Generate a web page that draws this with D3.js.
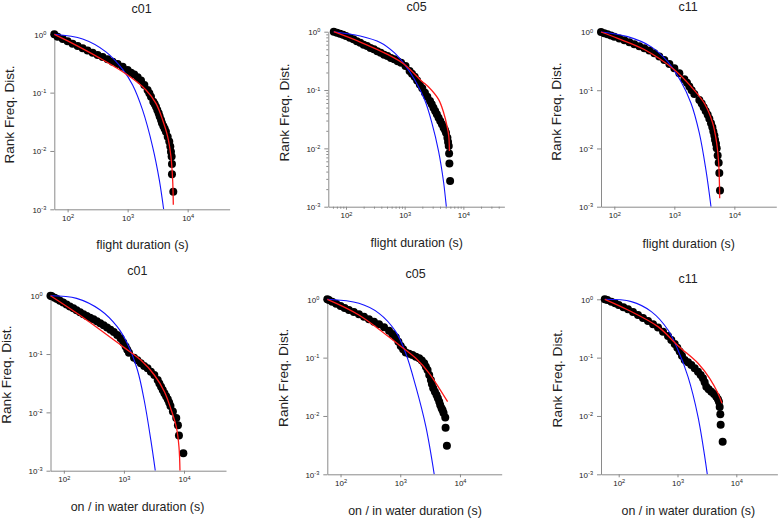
<!DOCTYPE html>
<html><head><meta charset="utf-8">
<script src="https://cdn.jsdelivr.net/npm/d3@7"></script>
<style>
body{margin:0;background:#fff;}
svg text{font-family:"Liberation Sans",Arial,sans-serif;}
</style></head><body>
<svg id="chart" width="778" height="519"></svg>
<script>
// ---------- data (duration in s, rank frequency) ----------
const titles = ["c01", "c05", "c11"];
const xLabels = ["flight duration (s)", "on / in water duration (s)"];
const yLabel = "Rank Freq. Dist.";
const xTickValues = [100, 1000, 10000];
const yTickValues = [0.001, 0.01, 0.1, 1];

const c01FlightDots = [[60,1.0],[68,0.912],[83,0.832],[100,0.759],[121,0.692],[147,0.631],[178,0.575],[215,0.525],[261,0.485],[316,0.442],[383,0.409],[464,0.373],[562,0.34],[681,0.31],[826,0.279],[1000,0.245],[1140,0.22],[1290,0.204],[1470,0.183],[1670,0.161],[1900,0.135],[2150,0.111],[2300,0.0974],[2450,0.0854],[2680,0.0701],[2820,0.064],[2970,0.0575],[3120,0.0504],[3290,0.0442],[3420,0.0388],[3600,0.034],[3730,0.0302],[3930,0.0268],[4140,0.0241],[4350,0.0214],[4650,0.0176],[4940,0.0145],[5140,0.0119],[5270,0.0097],[5410,0.008],[5480,0.006],[5480,0.004],[5770,0.002]];
const c01FlightRed = [[60,1.0],[100,0.77],[337,0.395],[1000,0.2],[2020,0.111],[2965,0.0656],[3830,0.034],[4645,0.0176],[5270,0.008],[5623,0.0032],[5770,0.0012]];
const c01FlightBlue = [[60,1.0],[178,0.83],[435,0.5],[826,0.25],[1211,0.135],[1778,0.05],[2610,0.0118],[3370,0.0032],[3981,0.001]];

const c05FlightDots = [[62,1.0],[70,0.961],[79,0.924],[89,0.883],[100,0.843],[116,0.784],[134,0.739],[153,0.683],[175,0.648],[200,0.598],[229,0.568],[261,0.525],[299,0.498],[341,0.46],[390,0.437],[446,0.403],[509,0.383],[582,0.354],[665,0.336],[760,0.31],[869,0.294],[1033,0.258],[1213,0.212],[1334,0.19],[1483,0.169],[1629,0.146],[1811,0.125],[1995,0.107],[2213,0.09],[2432,0.077],[2704,0.0648],[2891,0.0568],[3090,0.0498],[3304,0.0437],[3532,0.0383],[3777,0.0336],[4036,0.0294],[4318,0.0258],[4613,0.0226],[4864,0.0206],[5058,0.0186],[5343,0.0152],[5483,0.0128],[5636,0.011],[5715,0.0082],[5781,0.0055],[5943,0.00275]];
const c05FlightRed = [[62,1.0],[175,0.665],[509,0.409],[993,0.275],[1936,0.143],[2529,0.114],[3777,0.0692],[4613,0.0409],[5272,0.0241],[5636,0.0163],[5781,0.009]];
const c05FlightBlue = [[62,1.0],[175,0.843],[390,0.648],[665,0.437],[993,0.275],[1483,0.15],[2213,0.066],[2891,0.028],[3777,0.009],[4613,0.0026],[5128,0.001]];

const c11FlightDots = [[60,1.0],[68,0.948],[77,0.912],[88,0.87],[100,0.832],[121,0.774],[147,0.72],[178,0.665],[215,0.615],[261,0.568],[316,0.525],[383,0.479],[464,0.431],[562,0.378],[681,0.331],[826,0.283],[1000,0.238],[1211,0.196],[1469,0.154],[1625,0.134],[1778,0.116],[1945,0.1],[2154,0.0865],[2610,0.0683],[2855,0.059],[3083,0.0511],[3327,0.0442],[3597,0.0378],[3830,0.0323],[4083,0.0272],[4299,0.0232],[4467,0.0196],[4645,0.0167],[4764,0.0141],[4943,0.012],[5080,0.0101],[5272,0.0076],[5483,0.0057],[5623,0.0038],[5768,0.0019]];
const c11FlightRed = [[60,1.0],[114,0.778],[316,0.5],[1000,0.225],[1897,0.116],[3162,0.0598],[4355,0.0272],[5080,0.0123],[5483,0.0056],[5700,0.0014]];
const c11FlightBlue = [[60,1.0],[167,0.832],[408,0.561],[774,0.31],[1291,0.141],[1897,0.0598],[2610,0.0183],[3370,0.0042],[4083,0.001]];

const c01WaterDots = [[60,1.0],[63,0.975],[70.5,0.924],[77,0.877],[86,0.821],[97.5,0.764],[111,0.71],[126,0.656],[144,0.607],[163,0.561],[186,0.518],[212,0.482],[241,0.448],[274,0.42],[312,0.393],[355,0.363],[404,0.336],[460,0.31],[524,0.286],[596,0.261],[678,0.238],[773,0.212],[879,0.186],[975,0.158],[1067,0.134],[1138,0.119],[1213,0.105],[1474,0.0865],[1679,0.0779],[1910,0.0692],[2173,0.0623],[2472,0.0568],[2812,0.0498],[3206,0.0437],[3648,0.0358],[3890,0.0314],[4150,0.0275],[4426,0.0241],[4721,0.0212],[5036,0.0188],[5370,0.0167],[5662,0.0147],[5955,0.0128],[6531,0.0103],[7430,0.008],[7925,0.006],[8242,0.004],[9750,0.002]];
const c01WaterRed = [[60,1.0],[212,0.42],[1000,0.13],[1910,0.0789],[3206,0.0437],[4721,0.0226],[6124,0.011],[7430,0.00568],[8242,0.00258],[8570,0.001]];
const c01WaterBlue = [[60,1.0],[163,0.9],[404,0.568],[773,0.294],[1138,0.152],[1679,0.0532],[2173,0.0163],[2812,0.0033],[3327,0.001]];

const c05WaterDots = [[60,1.0],[63.7,0.968],[72.4,0.912],[84.6,0.837],[100,0.769],[117,0.71],[138,0.656],[167,0.603],[203,0.553],[247,0.501],[299,0.454],[363,0.411],[441,0.373],[535,0.331],[649,0.29],[738,0.255],[840,0.223],[931,0.188],[1019,0.158],[1116,0.139],[1236,0.122],[1406,0.116],[1600,0.111],[1824,0.104],[2074,0.0975],[2296,0.0889],[2518,0.08],[2686,0.0701],[2866,0.0615],[3055,0.0505],[3260,0.0414],[3388,0.0354],[3565,0.0298],[3806,0.0261],[4055,0.0229],[4268,0.0201],[4496,0.0176],[4667,0.0154],[4921,0.0135],[5117,0.0125],[5313,0.0112],[5672,0.0094],[5745,0.00625],[6043,0.0031]];
const c05WaterRed = [[60,1.0],[203,0.539],[955,0.165],[1824,0.0975],[3055,0.0539],[4496,0.0298],[6209,0.0176]];
const c05WaterBlue = [[60,1.0],[203,0.854],[441,0.575],[840,0.279],[1236,0.119],[1824,0.0318],[2686,0.00656],[3707,0.001]];

const c11WaterDots = [[58,1.0],[64,0.974],[75,0.912],[87,0.854],[100,0.8],[120,0.734],[144,0.674],[175,0.603],[213,0.539],[259,0.479],[315,0.425],[384,0.373],[466,0.327],[568,0.279],[690,0.235],[785,0.201],[896,0.172],[993,0.148],[1089,0.127],[1191,0.108],[1324,0.0912],[1507,0.0832],[1718,0.0748],[1959,0.0656],[2230,0.0575],[2477,0.0505],[2710,0.0442],[2897,0.0378],[3090,0.0318],[3388,0.0287],[3758,0.0261],[4178,0.0238],[4571,0.0214],[4875,0.0193],[5070,0.0176],[5212,0.0143],[5346,0.0107],[5420,0.0071],[5861,0.0036]];
const c11WaterRed = [[58,1.0],[144,0.656],[466,0.34],[1019,0.16],[2230,0.08],[3524,0.0442],[4875,0.0245],[5702,0.0165]];
const c11WaterBlue = [[58,1.0],[164,0.912],[359,0.615],[690,0.298],[1019,0.135],[1507,0.0472],[2230,0.00975],[3214,0.001]];

// ---------- layout (pixels) ----------
const panels = [
  {dots:c01FlightDots, red:c01FlightRed, blue:c01FlightBlue, title:titles[0], xlab:xLabels[0],
   dom:[60,50000], left:54.3, right:229.6, top:34.3, bot:209.3, minor:false,
   t:[141.7,9], xl:[142.5,245.7], yl:[10.5,114.5]},
  {dots:c05FlightDots, red:c05FlightRed, blue:c05FlightBlue, title:titles[1], xlab:xLabels[0],
   dom:[50,50000], left:328.3, right:504.4, top:31.7, bot:206.7, minor:true,
   t:[416.7,7], xl:[416.7,243.7], yl:[285.7,112.5]},
  {dots:c11FlightDots, red:c11FlightRed, blue:c11FlightBlue, title:titles[2], xlab:xLabels[0],
   dom:[60,50000], left:601, right:776.3, top:32, bot:206.7, minor:false,
   t:[688,6.7], xl:[688.7,244.7], yl:[557.7,111.7]},
  {dots:c01WaterDots, red:c01WaterRed, blue:c01WaterBlue, title:titles[0], xlab:xLabels[1],
   dom:[60,50000], left:50.5, right:226, top:295.7, bot:470.7, minor:false,
   t:[137.3,270.3], xl:[137.5,508], yl:[7.5,374.7]},
  {dots:c05WaterDots, red:c05WaterRed, blue:c05WaterBlue, title:titles[1], xlab:xLabels[1],
   dom:[60,50000], left:327.3, right:501.7, top:299.3, bot:474.3, minor:false,
   t:[415.7,274], xl:[415,511.3], yl:[284.7,377.8]},
  {dots:c11WaterDots, red:c11WaterRed, blue:c11WaterBlue, title:titles[2], xlab:xLabels[1],
   dom:[50,50000], left:601, right:777.4, top:299.3, bot:474.3, minor:false,
   t:[688,279], xl:[688.3,511.3], yl:[558,378.3]}
];

const svg = d3.select("#chart");
const AXIS = "#8a8a8a", TXT = "#222";

function expLabels(g){
  g.selectAll(".tick text").each(function(d){
    const t = d3.select(this);
    const e = Math.round(Math.log10(d));
    t.text(null);
    t.append("tspan").text("10");
    t.append("tspan").attr("dy","-0.5em").style("font-size","5.6px").text(e);
  });
}
function styleAxis(g){
  g.attr("font-family", null).attr("font-size", null);
  g.select(".domain").attr("stroke", AXIS);
  g.selectAll(".tick line").attr("stroke", AXIS);
  g.selectAll(".tick text").attr("fill", TXT).style("font-size","8px");
}

panels.forEach((p, i) => {
  const x = d3.scaleLog().domain(p.dom).range([p.left, p.right]);
  const y = d3.scaleLog().domain([0.001, 1]).range([p.bot, p.top]);
  const g = svg.append("g");

  if (p.minor) {
    const mx = [], my = [];
    [10,100,1000,10000].forEach(b => { for (let k=2;k<=9;k++){ const v=b*k; if (v>p.dom[0] && v<p.dom[1]) mx.push(v);} });
    [0.001,0.01,0.1].forEach(b => { for (let k=2;k<=9;k++) my.push(b*k); });
    g.append("g").attr("transform",`translate(0,${p.bot})`)
      .call(d3.axisBottom(x).tickValues(mx).tickSize(2).tickFormat(""))
      .call(s => { s.select(".domain").remove(); s.selectAll("line").attr("stroke",AXIS); });
    g.append("g").attr("transform",`translate(${p.left},0)`)
      .call(d3.axisLeft(y).tickValues(my).tickSize(2).tickFormat(""))
      .call(s => { s.select(".domain").remove(); s.selectAll("line").attr("stroke",AXIS); });
  }

  g.append("g").attr("transform",`translate(0,${p.bot})`)
    .call(d3.axisBottom(x).tickValues(xTickValues).tickSize(3).tickSizeOuter(0).tickPadding(3))
    .call(styleAxis).call(expLabels);
  g.append("g").attr("transform",`translate(${p.left},0)`)
    .call(d3.axisLeft(y).tickValues(yTickValues).tickSize(4).tickSizeOuter(0).tickPadding(4))
    .call(styleAxis).call(expLabels)
    .call(s => s.selectAll(".tick text").attr("dy","0.35em"));

  const clipId = "clip" + i;
  svg.append("clipPath").attr("id", clipId).append("rect")
    .attr("x", p.left - 6).attr("y", p.top - 8)
    .attr("width", p.right - p.left + 12).attr("height", p.bot - p.top + 8);

  const plot = g.append("g").attr("clip-path", `url(#${clipId})`);
  plot.selectAll("circle").data(p.dots).join("circle")
    .attr("cx", d => x(d[0])).attr("cy", d => y(d[1])).attr("r", 4).attr("fill", "#000");

  const line = d3.line().x(d => x(d[0])).y(d => y(d[1])).curve(d3.curveCatmullRom.alpha(0.5));
  plot.append("path").datum(p.blue).attr("d", line)
    .attr("fill","none").attr("stroke","#1414ff").attr("stroke-width",1.1);
  plot.append("path").datum(p.red).attr("d", line)
    .attr("fill","none").attr("stroke","#ff1a1a").attr("stroke-width",1.3);

  g.append("text").attr("x", p.t[0]).attr("y", p.t[1]).attr("dy","0.35em")
    .attr("text-anchor","middle").attr("fill",TXT).style("font-size","12.5px").text(p.title);
  g.append("text").attr("x", p.xl[0]).attr("y", p.xl[1]).attr("dy","0.27em")
    .attr("text-anchor","middle").attr("fill",TXT).style("font-size","12.4px").text(p.xlab);
  g.append("text").attr("transform",`translate(${p.yl[0]},${p.yl[1]}) rotate(-90)`).attr("dy","0.27em")
    .attr("text-anchor","middle").attr("fill",TXT).style("font-size","13.6px").text(yLabel);
});
</script>
</body></html>
